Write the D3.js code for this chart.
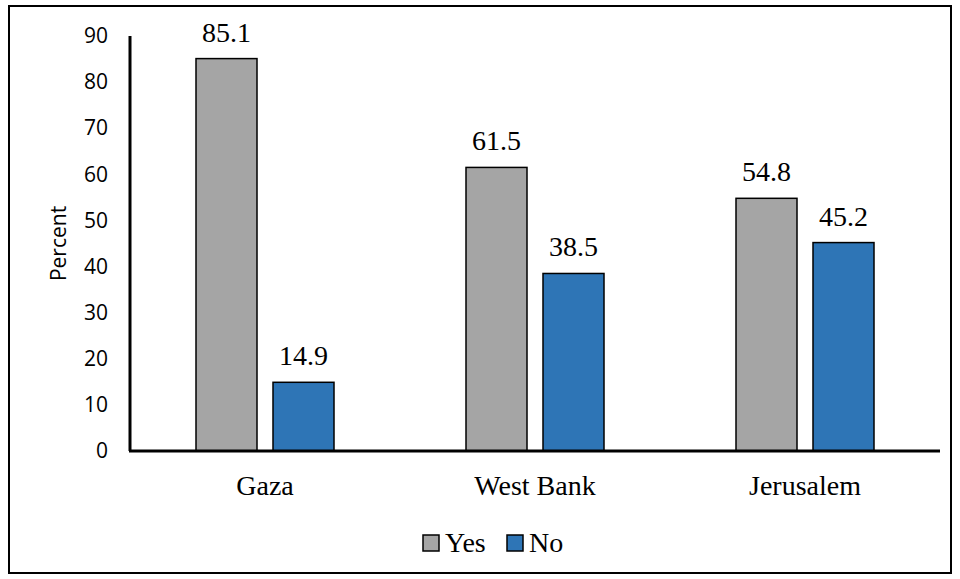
<!DOCTYPE html>
<html>
<head>
<meta charset="utf-8">
<script src="https://cdn.jsdelivr.net/npm/d3@7/dist/d3.min.js"></script>
<style>
  html, body { margin: 0; padding: 0; background: #fff; }
  svg { display: block; }
</style>
</head>
<body>
<svg id="chart" width="960" height="579"></svg>
<script>
// Share answering yes / no, by region
const regions = ["Gaza", "West Bank", "Jerusalem"];
const seriesNames = ["Yes", "No"];
const yesValues = [85.1, 61.5, 54.8];
const noValues = [14.9, 38.5, 45.2];
const yTicks = [0, 10, 20, 30, 40, 50, 60, 70, 80, 90];
const colors = ["#A5A5A5", "#2E75B6"];

const svg = d3.select("#chart");
const W = 960, H = 579;
const serif = "'Liberation Serif', 'Times New Roman', serif";
const sans = "'Open Sans', 'Noto Sans', sans-serif";

// outer frame
svg.append("rect")
  .attr("x", 9).attr("y", 6).attr("width", W - 18).attr("height", H - 12)
  .attr("fill", "none").attr("stroke", "#000").attr("stroke-width", 2);

const plot = { left: 130, right: 940, top: 36, bottom: 451 };

const x = d3.scaleBand().domain(regions).range([plot.left, plot.right]).paddingInner(0).paddingOuter(0);
const y = d3.scaleLinear().domain([0, 90]).range([plot.bottom, plot.top]);
const barW = 61, gap = 16;
const sub = d3.scaleBand().domain(seriesNames).range([0, barW * 2 + gap]).paddingInner(gap / (barW + gap));

const rows = regions.map((r, i) => ({ region: r, values: [yesValues[i], noValues[i]] }));

// y-axis tick labels
const yAxis = d3.axisLeft(y).tickValues(yTicks).tickSize(0).tickPadding(22).tickFormat(d3.format("d"));
const gy = svg.append("g").attr("transform", `translate(${plot.left},0)`).call(yAxis);
gy.select(".domain").remove();
gy.selectAll("text")
  .attr("font-family", sans)
  .attr("font-size", 21).attr("fill", "#000");

// y axis line
svg.append("line")
  .attr("x1", plot.left).attr("x2", plot.left)
  .attr("y1", y(90)).attr("y2", y(0))
  .attr("stroke", "#000").attr("stroke-width", 3);

// bars
const groups = svg.append("g").selectAll("g").data(rows).join("g")
  .attr("transform", d => `translate(${x(d.region) + (x.bandwidth() - (barW * 2 + gap)) / 2},0)`);

groups.selectAll("rect").data(d => d.values.map((v, k) => ({ key: seriesNames[k], v, k })))
  .join("rect")
  .attr("x", d => sub(d.key))
  .attr("y", d => y(d.v))
  .attr("width", sub.bandwidth())
  .attr("height", d => y(0) - y(d.v))
  .attr("fill", d => colors[d.k])
  .attr("stroke", "#000").attr("stroke-width", 1.5);

groups.selectAll("text.val").data(d => d.values.map((v, k) => ({ key: seriesNames[k], v, k })))
  .join("text").attr("class", "val")
  .attr("x", d => sub(d.key) + sub.bandwidth() / 2)
  .attr("y", d => y(d.v) - 17)
  .attr("text-anchor", "middle")
  .attr("font-family", serif)
  .attr("font-size", 28).attr("fill", "#000")
  .text(d => d.v.toFixed(1));

// x axis baseline
svg.append("line")
  .attr("x1", plot.left - 1).attr("x2", plot.right)
  .attr("y1", y(0)).attr("y2", y(0))
  .attr("stroke", "#000").attr("stroke-width", 3);

// category labels
const xAxis = d3.axisBottom(x).tickSize(0).tickPadding(0);
const gx = svg.append("g").attr("transform", `translate(0,${plot.bottom})`).call(xAxis);
gx.select(".domain").remove();
gx.selectAll("text")
  .attr("y", 44).attr("dy", null)
  .attr("font-family", serif)
  .attr("font-size", 28).attr("fill", "#000");

// y axis title
svg.append("text")
  .attr("transform", `translate(66,${(plot.top + plot.bottom) / 2}) rotate(-90)`)
  .attr("text-anchor", "middle")
  .attr("font-family", sans)
  .attr("font-size", 21).attr("fill", "#000")
  .text("Percent");

// legend
const legendX = [423, 507];
const leg = svg.append("g").selectAll("g").data(seriesNames).join("g")
  .attr("transform", (d, i) => `translate(${legendX[i]},535)`);
leg.append("rect").attr("width", 16).attr("height", 16)
  .attr("fill", (d, i) => colors[i]).attr("stroke", "#000").attr("stroke-width", 1.5);
leg.append("text").attr("x", 22).attr("y", 17)
  .attr("font-family", serif)
  .attr("font-size", 28).attr("fill", "#000")
  .text(d => d);
</script>
</body>
</html>
